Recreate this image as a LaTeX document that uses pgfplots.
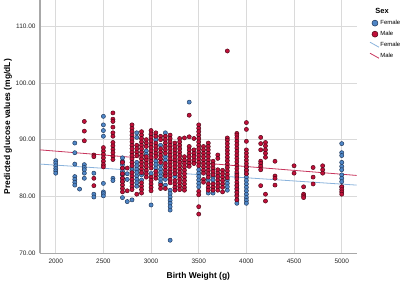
\documentclass[border=0pt]{standalone}
\usepackage{pgfplots}
\pgfplotsset{compat=1.18}
\usepackage{fontspec}
\setmainfont{Liberation Sans}
\definecolor{fblue}{HTML}{4F86C6}
\definecolor{fblueedge}{HTML}{1E3557}
\definecolor{mred}{HTML}{C0103A}
\definecolor{mrededge}{HTML}{4A0614}
\definecolor{fline}{HTML}{8AB3DC}
\definecolor{mline}{HTML}{C8365E}
\definecolor{gridc}{HTML}{DADADA}
\definecolor{axc}{HTML}{A8A8A8}
\pgfplotsset{slantline/.style={legend image code/.code={\draw[##1] (-1bp,3bp) -- (8bp,-2bp);}},
  markimg/.style={legend image code/.code={\draw[##1] plot coordinates {(4bp,0bp)};}}}
\begin{document}
\begin{tikzpicture}
\path[use as bounding box] (0,0) rectangle (400bp,282bp);
\begin{axis}[
  at={(40bp,28.7bp)}, anchor=south west,
  scale only axis, width=316.7bp, height=253.3bp,
  xmin=1835, xmax=5157, ymin=70, ymax=114.57,
  axis lines*=left,
  axis line style={axc, line width=1.4pt},
  xtick={2000,2500,3000,3500,4000,4500,5000},
  ytick={70,80,90,100,110},
  major tick length=0pt,
  grid=major,
  major grid style={gridc, line width=0.6pt},
  tick label style={font=\fontsize{6.5}{7}\selectfont, text=black!85},
  /pgf/number format/assume math mode=true,
  xticklabel style={/pgf/number format/1000 sep={}, yshift=-2bp},
  yticklabel style={/pgf/number format/fixed, /pgf/number format/fixed zerofill, /pgf/number format/precision=2, xshift=-1bp},
  xlabel={\textbf{Birth Weight (g)}},
  ylabel={\textbf{Predicted glucose values (mg/dL)}},
  label style={font=\fontsize{8.5}{10}\selectfont},
  xlabel style={at={(axis description cs:0.5,-0.091)}, anchor=center},
  ylabel style={at={(axis description cs:-0.101,0.5)}, anchor=center},
  clip=false,
  legend style={at={(axis description cs:1.040,0.972)}, anchor=north west,
    draw=none, fill=none, font=\fontsize{6}{7}\selectfont,
    row sep=3.2bp, inner sep=0pt, cells={anchor=west},
    nodes={inner sep=1bp}},
  legend cell align=left,
]
\addlegendimage{empty legend}
\addlegendentry{\hspace{-5bp}\fontsize{7.5}{9}\selectfont\textbf{Sex}}
\addlegendimage{only marks, mark=*, mark size=3bp, mark options={fill=fblue, draw=fblueedge, line width=0.5bp}, markimg}
\addlegendentry{Female}
\addlegendimage{only marks, mark=*, mark size=3bp, mark options={fill=mred, draw=mrededge, line width=0.5bp}, markimg}
\addlegendentry{Male}
\addlegendimage{fline, line width=0.8bp, slantline}
\addlegendentry{Female}
\addlegendimage{mline, line width=0.8bp, slantline}
\addlegendentry{Male}

% Female points
\addplot[only marks, mark=*, mark size=2.1bp, mark options={fill=fblue, draw=fblueedge, line width=0.45bp}, forget plot] coordinates {
(2000,86.3)(2000,85.9)(2000,85.4)(2000,84.9)(2000,84.5)(2000,84.1)
(2200,89.4)(2200,87.7)(2200,85.7)(2200,83.5)(2200,83.0)(2200,82.5)(2200,82.0)
(2250,81.3)
(2300,85.6)(2300,85.1)(2300,84.7)(2300,84.1)(2300,83.2)
(2400,84.1)(2400,80.4)(2400,79.9)
(2500,94.1)(2500,92.6)(2500,91.6)(2500,90.6)(2500,82.3)(2500,80.8)(2500,80.5)(2500,80.1)
(2600,83.2)(2600,82.8)
(2700,86.8)(2700,86.2)(2700,85.6)(2700,85.0)(2700,84.4)(2700,83.8)(2700,83.2)(2700,82.6)(2700,79.8)
(2750,84.0)(2750,83.0)(2750,79.1)
(2800,85.1)(2800,84.5)(2800,79.4)
(2850,91.2)(2850,90.4)(2850,86.0)(2850,85.4)(2850,84.8)(2850,84.2)(2850,83.6)(2850,83.0)(2850,82.4)(2850,81.8)
(2900,83.8)(2900,82.9)
(2950,88.0)(2950,87.4)
(3000,90.9)(3000,84.0)(3000,78.5)
(3050,90.0)(3050,86.2)(3050,85.6)(3050,85.0)
(3100,89.0)(3100,85.5)(3100,84.8)(3100,84.2)(3100,83.6)(3100,83.0)(3100,82.4)
(3150,91.2)(3150,87.0)(3150,86.4)(3150,83.0)(3150,82.0)
(3200,81.1)(3200,80.5)(3200,79.9)(3200,79.3)(3200,78.8)(3200,78.2)(3200,77.6)(3200,72.3)
(3250,83.5)
(3400,96.6)
(3500,84.7)(3500,84.1)(3500,83.5)(3500,82.9)(3500,82.3)(3500,81.7)
(3600,82.9)(3600,80.6)
(3650,83.5)(3650,82.9)(3650,80.6)
(3800,82.9)(3800,82.3)(3800,81.7)(3800,81.1)
(3900,84.0)(3900,83.4)(3900,82.0)(3900,81.4)(3900,80.8)(3900,80.2)(3900,79.4)(3900,78.8)
(4000,85.2)(4000,84.6)(4000,84.0)(4000,83.4)(4000,82.8)(4000,82.2)(4000,81.6)(4000,81.0)(4000,80.4)(4000,79.8)(4000,79.3)(4000,78.8)
(5000,89.3)(5000,87.7)(5000,87.2)(5000,86.0)(5000,85.3)(5000,84.7)(5000,83.8)(5000,83.2)(5000,82.6)(5000,81.7)
};

% Male points
\addplot[only marks, mark=*, mark size=2.1bp, mark options={fill=mred, draw=mrededge, line width=0.45bp}, forget plot] coordinates {
(2300,93.2)(2300,91.5)(2300,89.8)
(2400,87.3)(2400,87.0)(2400,83.2)(2400,81.9)
(2500,88.6)(2500,88.0)(2500,87.4)(2500,86.8)(2500,86.2)(2500,85.6)(2500,85.2)
(2600,94.7)(2600,93.6)(2600,93.2)(2600,92.2)(2600,91.2)(2600,90.6)(2600,89.5)(2600,88.9)(2600,88.3)(2600,87.7)(2600,87.1)(2600,86.5)
(2700,86.0)(2700,85.0)(2700,84.0)(2700,83.2)(2700,82.6)(2700,82.0)(2700,81.4)(2700,80.8)
(2750,85.0)(2750,81.0)
(2800,92.6)(2800,92.0)(2800,91.4)(2800,90.8)(2800,90.2)(2800,89.6)(2800,89.0)(2800,88.4)(2800,87.8)(2800,87.2)(2800,86.6)(2800,86.0)(2800,85.4)(2800,84.2)(2800,83.6)(2800,83.0)(2800,82.4)(2800,81.8)(2800,81.2)
(2850,89.0)(2850,88.4)(2850,87.8)(2850,87.2)(2850,80.4)
(2900,91.4)(2900,90.8)(2900,90.2)(2900,89.6)(2900,89.0)(2900,88.4)(2900,87.8)(2900,87.2)(2900,86.6)(2900,86.0)(2900,85.4)(2900,84.8)(2900,84.2)(2900,82.4)(2900,81.8)(2900,81.2)(2900,80.6)
(2950,90.0)(2950,89.4)(2950,88.8)(2950,87.0)(2950,86.4)(2950,85.8)(2950,85.2)(2950,84.6)(2950,84.0)(2950,83.4)
(3000,91.6)(3000,91.0)(3000,90.4)(3000,89.8)(3000,89.2)(3000,88.6)(3000,88.0)(3000,87.4)(3000,86.8)(3000,86.2)(3000,85.6)(3000,85.0)(3000,83.4)(3000,82.8)(3000,82.2)(3000,81.6)(3000,81.0)
(3050,91.2)(3050,90.6)(3050,89.4)(3050,88.8)(3050,88.2)(3050,87.6)(3050,87.0)(3050,84.4)(3050,83.8)(3050,83.2)
(3100,90.6)(3100,90.0)(3100,88.4)(3100,87.8)(3100,87.2)(3100,86.6)(3100,86.0)(3100,82.0)(3100,81.4)
(3150,90.6)(3150,90.0)(3150,89.4)(3150,88.8)(3150,88.2)(3150,87.6)(3150,85.8)(3150,85.2)(3150,84.6)(3150,84.0)(3150,83.6)(3150,81.4)
(3200,90.8)(3200,90.2)(3200,89.6)(3200,89.0)(3200,88.4)(3200,87.8)(3200,87.2)(3200,86.6)(3200,86.0)(3200,85.4)(3200,84.8)(3200,84.2)(3200,83.6)(3200,83.0)(3200,82.4)
(3250,89.4)(3250,88.8)(3250,88.2)(3250,87.6)(3250,87.0)(3250,86.4)(3250,85.8)(3250,85.2)(3250,84.6)(3250,84.0)(3250,82.8)(3250,82.2)(3250,81.6)(3250,81.1)
(3300,90.2)(3300,89.6)(3300,89.0)(3300,88.4)(3300,87.8)(3300,87.2)(3300,86.6)(3300,86.0)(3300,85.4)(3300,84.8)(3300,84.2)(3300,83.6)(3300,83.0)(3300,82.4)(3300,81.8)(3300,81.2)
(3350,90.3)(3350,87.0)(3350,86.4)(3350,85.8)(3350,85.2)(3350,84.6)(3350,84.0)(3350,83.4)(3350,82.8)(3350,82.2)(3350,81.6)(3350,81.1)
(3400,94.3)(3400,90.5)(3400,88.8)(3400,88.2)(3400,87.6)(3400,87.0)(3400,86.4)(3400,85.8)(3400,85.3)
(3450,90.2)(3450,88.2)(3450,87.6)(3450,87.0)(3450,86.4)(3450,85.8)
(3500,92.6)(3500,92.0)(3500,91.4)(3500,90.8)(3500,90.2)(3500,89.6)(3500,89.0)(3500,88.4)(3500,87.8)(3500,87.2)(3500,86.6)(3500,86.0)(3500,85.4)(3500,80.9)(3500,80.3)(3500,78.2)(3500,76.9)
(3550,88.8)(3550,88.2)(3550,87.6)(3550,87.0)(3550,86.4)(3550,85.8)(3550,85.2)(3550,84.6)(3550,84.1)(3550,83.0)(3550,82.5)
(3600,89.4)(3600,88.8)(3600,88.2)(3600,87.6)(3600,87.0)(3600,86.4)(3600,85.8)(3600,85.2)(3600,84.6)(3600,84.0)(3600,83.4)(3600,82.2)(3600,81.6)(3600,81.1)
(3650,86.2)(3650,85.6)(3650,85.0)(3650,84.4)(3650,83.8)(3650,82.2)(3650,81.6)(3650,81.1)
(3700,87.3)(3700,86.7)(3700,84.7)(3700,84.1)(3700,83.5)(3700,82.9)(3700,82.3)(3700,81.7)(3700,81.1)
(3750,84.6)(3750,84.0)(3750,83.4)(3750,82.8)(3750,82.2)(3750,81.6)(3750,80.8)
(3800,105.6)(3800,90.3)(3800,89.9)(3800,89.3)(3800,88.7)(3800,88.1)(3800,87.5)(3800,86.9)(3800,86.3)(3800,85.7)(3800,85.1)(3800,84.5)(3800,83.9)(3800,83.3)
(3900,91.1)(3900,90.8)(3900,90.3)(3900,89.7)(3900,89.1)(3900,88.5)(3900,87.9)(3900,87.3)(3900,86.7)(3900,86.1)(3900,85.5)(3900,84.9)(3900,84.3)(3900,83.7)(3900,83.1)(3900,82.5)(3900,81.9)(3900,81.3)(3900,80.7)(3900,80.1)(3900,79.4)
(4000,93.0)(4000,91.8)(4000,89.7)(4000,88.2)(4000,87.6)(4000,87.0)(4000,86.4)(4000,85.8)(4000,85.2)(4000,84.6)(4000,84.0)
(4150,90.4)(4150,89.3)(4150,88.2)(4150,86.2)(4150,85.8)(4150,85.3)(4150,84.7)(4150,81.9)
(4200,89.5)(4200,88.9)(4200,88.2)(4200,87.6)(4200,86.9)(4200,80.4)(4200,79.2)
(4300,86.2)(4300,83.6)(4300,83.2)(4300,82.0)
(4500,85.4)(4500,84.1)
(4600,81.7)(4600,80.4)(4600,80.1)(4600,79.8)
(4700,85.1)(4700,83.4)(4700,82.2)
(4800,85.4)(4800,84.7)(4800,84.1)
(5000,81.7)(5000,81.2)(5000,80.8)(5000,80.4)
};

% Fit lines
\addplot[fline, line width=0.8bp, forget plot] coordinates {(1835,85.7)(5157,82.0)};
\addplot[mline, line width=0.8bp, forget plot] coordinates {(1835,88.2)(5157,83.7)};
\end{axis}
\end{tikzpicture}
\end{document}
